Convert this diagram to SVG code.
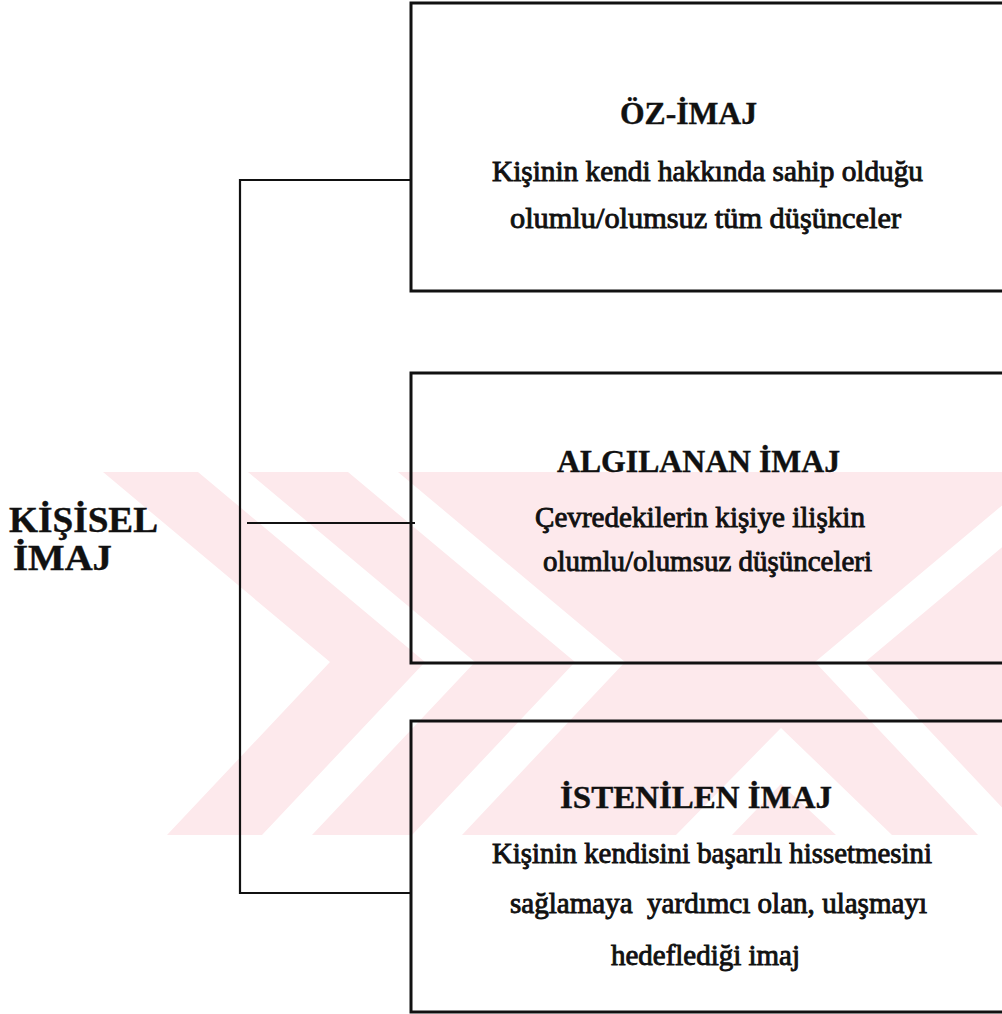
<svg xmlns="http://www.w3.org/2000/svg" width="1002" height="1014" viewBox="0 0 1002 1014">
  <style>
    .box { fill: none; stroke: #111; stroke-width: 3; }
    .wire { fill: none; stroke: #111; stroke-width: 2.2; }
    .title { font-family: "Liberation Serif", "Times New Roman", serif; font-weight: bold; font-size: 32px; fill: #111; stroke: #111; stroke-width: 0.4; }
    .body { font-family: "Liberation Serif", "Times New Roman", serif; font-size: 29px; fill: #111; stroke: #111; stroke-width: 0.9; white-space: pre; }
    .root { font-family: "Liberation Serif", "Times New Roman", serif; font-weight: bold; font-size: 36px; fill: #111; stroke: #111; stroke-width: 0.4; }
    .mark { fill: #fde9ec; }
    .gap { fill: #ffffff; }
  </style>

  <rect width="1002" height="1014" fill="#ffffff"/>

  <!-- faint background emblem -->
  <g id="emblem">
    <polygon class="mark" points="103,472 1002,472 1002,835 167,835 330,662"/>
    <polygon class="gap" points="198,472 248,472 475,662 312,835 262,835 425,662"/>
    <polygon class="gap" points="348,472 398,472 625,662 462,835 412,835 575,662"/>
    <polygon class="gap" points="676,835 781,728 892,835 836,835 781,784 732,835"/>
    <polygon class="gap" points="1092,472 1042,472 815,662 978,835 1028,835 865,662"/>
  </g>

  <!-- connectors -->
  <g id="connectors">
    <path class="wire" d="M411,180 H240 V893 H411"/>
    <path class="wire" d="M247,523 H415"/>
  </g>

  <!-- root label -->
  <g id="root">
    <text class="root" x="9" y="532" textLength="149" lengthAdjust="spacingAndGlyphs">KİŞİSEL</text>
    <text class="root" x="13" y="570" textLength="99" lengthAdjust="spacingAndGlyphs">İMAJ</text>
  </g>

  <!-- self image -->
  <g id="oz-imaj">
    <path class="box" d="M1006,3 H411 V291 H1006"/>
    <text class="title" x="620" y="124" textLength="137" lengthAdjust="spacingAndGlyphs">ÖZ-İMAJ</text>
    <text class="body" x="492" y="181" textLength="431" lengthAdjust="spacingAndGlyphs">Kişinin kendi hakkında sahip olduğu</text>
    <text class="body" x="510" y="228" textLength="391" lengthAdjust="spacingAndGlyphs">olumlu/olumsuz tüm düşünceler</text>
  </g>

  <!-- perceived image -->
  <g id="algilanan-imaj">
    <path class="box" d="M1006,373 H411 V663 H1006"/>
    <text class="title" x="557" y="472" textLength="283" lengthAdjust="spacingAndGlyphs">ALGILANAN İMAJ</text>
    <text class="body" x="535" y="527" textLength="330" lengthAdjust="spacingAndGlyphs">Çevredekilerin kişiye ilişkin</text>
    <text class="body" x="543" y="571" textLength="329" lengthAdjust="spacingAndGlyphs">olumlu/olumsuz düşünceleri</text>
  </g>

  <!-- desired image -->
  <g id="istenilen-imaj">
    <path class="box" d="M1006,721 H411 V1012 H1006"/>
    <text class="title" x="560" y="808" textLength="272" lengthAdjust="spacingAndGlyphs">İSTENİLEN İMAJ</text>
    <text class="body" x="492" y="863" textLength="440" lengthAdjust="spacingAndGlyphs">Kişinin kendisini başarılı hissetmesini</text>
    <text class="body" x="510" y="913" textLength="417" lengthAdjust="spacingAndGlyphs">sağlamaya  yardımcı olan, ulaşmayı</text>
    <text class="body" x="611" y="965" textLength="189" lengthAdjust="spacingAndGlyphs">hedeflediği imaj</text>
  </g>
</svg>
